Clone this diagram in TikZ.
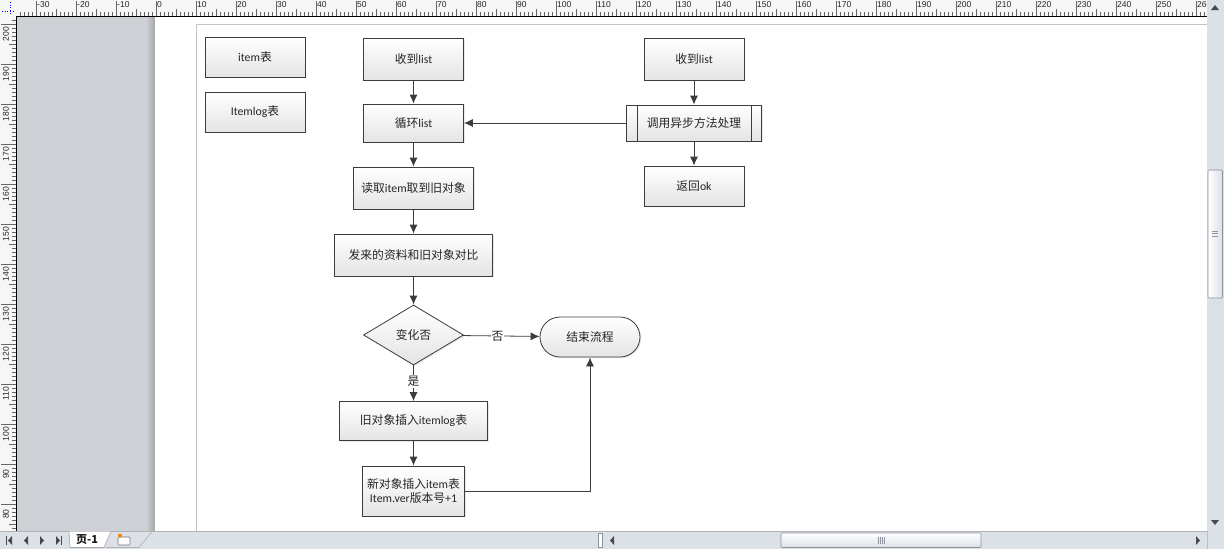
\documentclass[tikz,border=0pt]{standalone}
\usepackage{fontspec}
\setmainfont{Carlito}
\newfontfamily\cjk{Noto Sans CJK SC}
\newfontfamily\rulerfont{Liberation Sans}
\usetikzlibrary{arrows.meta,shapes.geometric,shadows}
\newcommand\zhs[1]{{\cjk #1}}
\definecolor{lc}{HTML}{3C3C3C}
\definecolor{txt}{HTML}{262626}
\definecolor{boxb}{HTML}{E4E4E4}
\definecolor{canvasgray}{HTML}{CDD0D5}
\definecolor{uibg}{HTML}{DCE0E7}
\definecolor{rulerbg}{HTML}{F6F6F6}
\definecolor{tickc}{HTML}{666666}
\definecolor{pageedge}{HTML}{C4C4C4}
\definecolor{uiline}{HTML}{8C939B}
\definecolor{uiarrow}{HTML}{4A4A4A}
\tikzset{
  fbox/.style={draw=lc, line width=0.8pt, top color=white, bottom color=boxb,
    inner sep=0pt, text=txt, font=\fontsize{11.8}{14}\selectfont, align=center,
    drop shadow={opacity=0.18, shadow xshift=1.2pt, shadow yshift=-1.2pt}},
  arr/.style={draw=lc, line width=0.8pt, -{Latex[length=9pt,width=8pt]}},
  lab/.style={fill=white, inner sep=1pt, text=txt, font=\fontsize{11.8}{14}\selectfont},
  tick/.style={draw=tickc, line width=0.6pt},
  rl/.style={inner sep=0pt, text=black!85, font=\rulerfont\fontsize{8.5}{9}\selectfont},
  navtri/.style={fill=uiarrow, draw=none},
}
\begin{document}
\begin{tikzpicture}[x=1pt,y=-1pt]
\useasboundingbox (0,0) rectangle (1224,549);
% ---------- UI chrome ----------
\fill[white] (0,0) rectangle (1224,549);
\fill[canvasgray] (16,16) rectangle (155,531);
\shade[left color=canvasgray, right color=black!35] (146,16) rectangle (155,531);
\fill[white] (155,16.5) rectangle (1207,531);
\draw[pageedge, line width=0.8pt] (196,531) -- (196,24) -- (1207,24);
% top ruler
\fill[rulerbg] (0,0) rectangle (1207,16);
\begin{scope}
\clip (16,0) rectangle (1207,16);
\foreach \v in {-34,...,262}{
  \pgfmathsetmacro\xx{156+4*(\v)}
  \pgfmathtruncatemacro\m{mod(abs(\v),10)}
  \ifnum\m=0
    \draw[tick] (\xx,1) -- (\xx,16);
    \node[rl, anchor=north west] at (\xx+1,1.5) {\v};
  \else\ifnum\m=5
    \draw[tick] (\xx,9) -- (\xx,16);
  \else
    \draw[tick] (\xx,12) -- (\xx,16);
  \fi\fi
}
\end{scope}
\draw[black, line width=0.8pt] (16,16) -- (1207,16);
% left ruler
\fill[rulerbg] (0,16) rectangle (16,531);
\begin{scope}
\clip (0,16.5) rectangle (16,531);
\foreach \v in {74,...,201}{
  \pgfmathsetmacro\yy{24+4*(200-\v)}
  \pgfmathtruncatemacro\m{mod(\v,10)}
  \ifnum\m=0
    \draw[tick] (1,\yy) -- (16,\yy);
    \node[rl, rotate=90] at (6,\yy+10) {\v};
  \else\ifnum\m=5
    \draw[tick] (9,\yy) -- (16,\yy);
  \else
    \draw[tick] (12,\yy) -- (16,\yy);
  \fi\fi
}
\end{scope}
\draw[black, line width=0.8pt] (16,16) -- (16,531);
% corner crosshair
\fill[rulerbg] (0,0) rectangle (16,16);
\draw[blue, dotted, line width=0.7pt] (2,11) -- (15,11);
\draw[blue, dotted, line width=0.7pt] (10,2) -- (10,15);
% vertical scrollbar
\fill[uibg] (1207,0) rectangle (1224,531);
\fill[navtri] (1211,10) -- (1219,10) -- (1215,5) -- cycle;
\fill[navtri] (1211,520) -- (1219,520) -- (1215,525) -- cycle;
\shade[left color=white, right color=uibg, draw=uiline, line width=0.6pt, rounded corners=1pt] (1208,170) rectangle (1222.5,298);
\foreach \g in {231,233.5,236} \draw[uiline, line width=0.5pt] (1212,\g) -- (1218,\g);
% bottom bar
\fill[uibg] (0,531) rectangle (1224,549);
\draw[black!30, line width=0.6pt] (0,531.5) -- (1207,531.5);
\fill[navtri] (6,536) rectangle (7,545);
\fill[navtri] (12,536) -- (12,545) -- (8,540.5) -- cycle;
\fill[navtri] (28,536) -- (28,545) -- (24,540.5) -- cycle;
\fill[navtri] (40,536) -- (40,545) -- (44,540.5) -- cycle;
\fill[navtri] (56,536) -- (56,545) -- (60,540.5) -- cycle;
\fill[navtri] (61,536) rectangle (62,545);
\draw[fill=white, draw=black!35, line width=0.6pt] (69,531.5) -- (70,547.5) -- (104,547.5) -- (111,531.5);
\node[inner sep=0pt, text=black!90, font=\cjk\bfseries\fontsize{11}{12}\selectfont] (tab) at (87,540) {页-1};
\draw[draw=black!30, line width=0.6pt] (106,547.5) -- (139,547.5) -- (152,531.5);
\draw[fill=white, draw=black!55, line width=0.6pt, rounded corners=1pt] (118,537) rectangle (130,545);
\fill[orange] (120,535.5) circle (2pt);
% horizontal scrollbar
\draw[fill=white, draw=uiline, line width=0.5pt] (598,533) rectangle (602,547);
\fill[navtri] (614,536) -- (614,545) -- (610,540.5) -- cycle;
\fill[navtri] (1196,536) -- (1196,545) -- (1200,540.5) -- cycle;
\shade[top color=white, bottom color=uibg, draw=uiline, line width=0.6pt, rounded corners=1pt] (781,533) rectangle (981,547.5);
\foreach \g in {878,880,882,884} \draw[uiline, line width=0.5pt] (\g,537) -- (\g,544);
\draw[black!25, line width=0.6pt] (1207,531) -- (1207,549);
% ---------- diagram ----------
\node[fbox, minimum width=100pt, minimum height=40pt] (item) at (255,57) {item\zhs{表}};
\node[fbox, minimum width=100pt, minimum height=40pt] (itemlog) at (255,112) {Itemlog\zhs{表}};
\node[fbox, minimum width=100pt, minimum height=42pt] (r1) at (413.5,59) {\zhs{收到}list};
\node[fbox, minimum width=100pt, minimum height=38pt] (loop) at (413.5,123) {\zhs{循环}list};
\node[fbox, minimum width=120pt, minimum height=42pt] (read) at (413.5,188) {\zhs{读取}item\zhs{取到旧对象}};
\node[fbox, minimum width=158pt, minimum height=42pt] (cmp) at (413.5,255) {\zhs{发来的资料和旧对象对比}};
\node[fbox, diamond, aspect=1.667, minimum width=100pt, minimum height=60pt] (dia) at (413.5,335) {\zhs{变化否}};
\node[fbox, rounded corners=20pt, minimum width=100pt, minimum height=40pt] (end) at (590,337) {\zhs{结束流程}};
\node[fbox, minimum width=148pt, minimum height=39pt] (ins) at (413.5,421) {\zhs{旧对象插入}itemlog\zhs{表}};
\node[fbox, minimum width=102pt, minimum height=50pt] (new) at (413.5,491) {\zhs{新对象插入}item\zhs{表}\\Item.ver\zhs{版本号}+1};
\node[fbox, minimum width=100pt, minimum height=42pt] (r2) at (694,59) {\zhs{收到}list};
\node[fbox, minimum width=135pt, minimum height=36pt] (async) at (694,123) {\zhs{调用异步方法处理}};
\draw[lc, line width=0.8pt] ([xshift=11pt]async.north west) -- ([xshift=11pt]async.south west);
\draw[lc, line width=0.8pt] ([xshift=-11pt]async.north east) -- ([xshift=-11pt]async.south east);
\node[fbox, minimum width=100pt, minimum height=40pt] (ok) at (694,186) {\zhs{返回}ok};
% connectors
\draw[arr] (r1) -- (loop);
\draw[arr] (async) -- (loop);
\draw[arr] (loop) -- (read);
\draw[arr] (read) -- (cmp);
\draw[arr] (cmp) -- (dia);
\draw[arr] (r2) -- (async);
\draw[arr] (async) -- (ok);
\draw[arr] (dia) -- node[lab, pos=0.45] {\zhs{否}} (end);
\draw[arr] (dia) -- node[lab, pos=0.45] {\zhs{是}} (ins);
\draw[arr] (ins) -- (new);
\draw[arr] (new.east) -| (end.south);
\end{tikzpicture}
\end{document}
